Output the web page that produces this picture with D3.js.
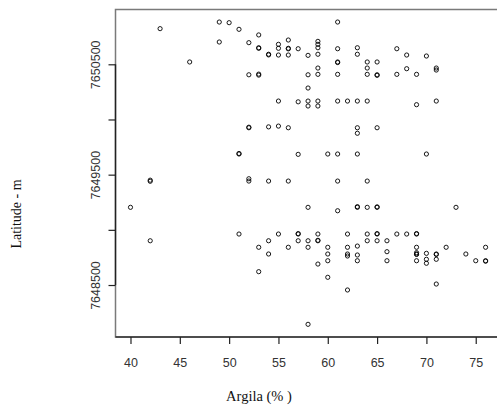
<!DOCTYPE html>
<html>
<head>
<meta charset="utf-8">
<script src="https://cdn.jsdelivr.net/npm/d3@7"></script>
<style> body { margin: 0; background: #fff; } </style>
</head>
<body>
<div id="chart"></div>
<script>

// Argila (%) of each sample
var argila = [
    43, 49, 50, 51, 53, 49, 52, 53, 53, 54, 54, 55, 55, 55, 56, 56, 56, 56, 57, 58,
    46, 52, 53, 53, 58, 58, 55, 57, 58, 58, 52, 52, 54, 55, 56,
    61, 59, 59, 59, 59, 61, 63, 63, 67, 68, 70, 61, 61, 64, 65, 64, 64, 65, 65,
    59, 59, 61, 67, 68, 69, 71, 71, 59, 59, 61, 62, 63, 64, 69, 71, 63, 65, 63,
    51, 51, 57, 60, 61, 63, 70, 42, 42, 52, 52, 54, 56, 61, 64,
    40, 58, 61, 63, 63, 64, 65, 65, 73,
    51, 42, 53, 54, 54, 55, 56, 57, 57, 57, 58, 58, 53, 58, 59, 59, 59,
    60, 60, 60, 59, 60, 62, 62, 62, 62, 63, 63, 63, 62,
    64, 65, 65, 64, 65, 66, 66, 66, 67, 68, 69, 69, 69, 69, 69, 69, 69,
    70, 70, 70, 71, 71, 71, 71, 72, 74, 75, 76, 76, 76
];

// Latitude (m) of each sample
var latitude = [
    7650823, 7650883, 7650877, 7650817, 7650766, 7650702, 7650696, 7650645, 7650650, 7650591,
    7650585, 7650681, 7650645, 7650584, 7650720, 7650645, 7650640, 7650584, 7650641, 7650581,
    7650521, 7650405, 7650411, 7650402, 7650405, 7650285, 7650167, 7650160, 7650167, 7650122,
    7649925, 7649930, 7649933, 7649940, 7649925,
    7650883, 7650708, 7650681, 7650650, 7650591, 7650641, 7650650, 7650591, 7650641, 7650584,
    7650575, 7650521, 7650516, 7650521, 7650521, 7650466, 7650409, 7650400, 7650405,
    7650466, 7650409, 7650409, 7650409, 7650460, 7650409, 7650466, 7650448, 7650167, 7650122,
    7650167, 7650167, 7650167, 7650167, 7650134, 7650167, 7649925, 7649925, 7649875,
    7649687, 7649692, 7649684, 7649687, 7649687, 7649687, 7649687, 7649450, 7649440, 7649463,
    7649442, 7649442, 7649442, 7649442, 7649442,
    7649204, 7649204, 7649173, 7649204, 7649210, 7649204, 7649204, 7649208, 7649204,
    7648962, 7648901, 7648842, 7648901, 7648781, 7648962, 7648842, 7648962, 7648966, 7648901,
    7648901, 7648842, 7648621, 7648144, 7648962, 7648901, 7648905,
    7648842, 7648781, 7648720, 7648690, 7648570, 7648962, 7648842, 7648781, 7648763,
    7648853, 7648772, 7648720, 7648455,
    7648962, 7648962, 7648966, 7648901, 7648901, 7648901, 7648802, 7648720, 7648962, 7648962,
    7648962, 7648966, 7648842, 7648793, 7648781, 7648777, 7648720,
    7648787, 7648733, 7648697, 7648781, 7648777, 7648733, 7648509, 7648842, 7648781, 7648720,
    7648842, 7648720, 7648716
];

var xTicks = [40, 45, 50, 55, 60, 65, 70, 75];
var yTicks = [7648500, 7649000, 7649500, 7650000, 7650500];
var yLabels = [7648500, 7649500, 7650500];   // the others are dropped (overlap)

var W = 497, H = 409;

var svg = d3.select("#chart").append("svg")
    .attr("width", W)
    .attr("height", H);

var x = d3.scaleLinear().domain([38.48, 77.44]).range([115.5, 499.8]);
var y = d3.scaleLinear().domain([7648029, 7650992]).range([337, 10]);

// frame (right side falls outside the picture)
svg.append("rect")
    .attr("x", 115.5)
    .attr("y", 9.5)
    .attr("width", 400)
    .attr("height", 327.5)
    .attr("fill", "none")
    .attr("stroke", "#7a7a7a")
    .attr("stroke-width", 1.5);

svg.append("line")
    .attr("x1", 115.5).attr("x2", W)
    .attr("y1", 337).attr("y2", 337)
    .attr("stroke", "#000").attr("stroke-width", 1.2);

// y axis
var yAxis = svg.append("g")
    .attr("transform", "translate(115.5,0)")
    .call(d3.axisLeft(y).tickValues(yTicks).tickSize(7).tickPadding(9)
        .tickFormat(function(d) { return yLabels.indexOf(d) >= 0 ? d3.format("d")(d) : ""; }));

yAxis.select(".domain").remove();
yAxis.append("line")
    .attr("y1", y(yTicks[0])).attr("y2", y(yTicks[yTicks.length - 1]))
    .attr("stroke", "#222").attr("stroke-width", 1.4);

yAxis.selectAll(".tick line").attr("stroke", "#222").attr("stroke-width", 1.2);
yAxis.selectAll(".tick text")
    .attr("font-family", "'Liberation Sans', Arial, sans-serif")
    .attr("font-size", 12.5)
    .attr("fill", "#333")
    .attr("text-anchor", "middle")
    .attr("dy", null)
    .attr("x", null)
    .attr("transform", "translate(-16,0) rotate(-90)");

// x axis
var xAxis = svg.append("g")
    .attr("transform", "translate(0,337)")
    .call(d3.axisBottom(x).tickValues(xTicks).tickSize(7).tickPadding(14));

xAxis.select(".domain").remove();
xAxis.selectAll(".tick line").attr("stroke", "#222").attr("stroke-width", 1.2);
xAxis.selectAll(".tick text")
    .attr("font-family", "'Liberation Sans', Arial, sans-serif")
    .attr("font-size", 12.5)
    .attr("fill", "#333");

// titles
svg.append("text")
    .attr("x", 259)
    .attr("y", 401)
    .attr("text-anchor", "middle")
    .attr("font-family", "'Liberation Serif', 'Times New Roman', serif")
    .attr("font-size", 14.5)
    .attr("fill", "#111")
    .text("Argila (% )");

svg.append("text")
    .attr("transform", "translate(21,214) rotate(-90)")
    .attr("text-anchor", "middle")
    .attr("font-family", "'Liberation Serif', 'Times New Roman', serif")
    .attr("font-size", 14)
    .attr("fill", "#111")
    .text("Latitude - m");

// points
svg.append("g").selectAll("circle")
    .data(argila.map(function(a, i) { return [a, latitude[i]]; }))
    .enter()
    .append("circle")
    .attr("cx", function(d) { return x(d[0]); })
    .attr("cy", function(d) { return y(d[1]); })
    .attr("r", 2.1)
    .attr("fill", "none")
    .attr("stroke", "#000")
    .attr("stroke-width", 0.9);

</script>
</body>
</html>
